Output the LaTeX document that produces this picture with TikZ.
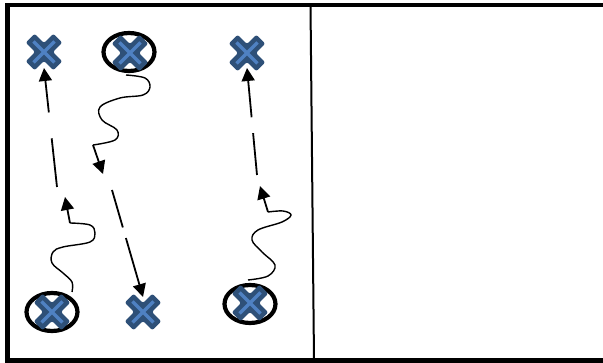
\documentclass[tikz,border=0pt]{standalone}
\usetikzlibrary{arrows.meta,shapes.geometric}
\definecolor{xdark}{HTML}{2E5078}
\definecolor{xlight}{HTML}{4F81C2}
\tikzset{
  frameline/.style={line width=4.5pt,black},
  ring/.style={ellipse,draw=black,line width=4.2pt,minimum width=51pt,minimum height=38pt,inner sep=0pt},
  runline/.style={line width=1.8pt,-{Triangle[length=13pt,width=13pt]}},
  wiggle/.style={line width=1.4pt},
  xcross/.pic={
    \fill[xdark,rounded corners=2pt,scale=1.06] (8.5,0) -- (17.2,8.8) -- (8.8,17.2) -- (0,8.5) -- (-8.8,17.2) -- (-17.2,8.8) -- (-8.5,0) -- (-17.2,-8.8) -- (-8.8,-17.2) -- (0,-8.5) -- (8.8,-17.2) -- (17.2,-8.8) -- cycle;
    \draw[xlight,line width=3.4pt] (-10.5,-10.5) -- (10.5,10.5) (-10.5,10.5) -- (10.5,-10.5);
  }
}
\begin{document}
\begin{tikzpicture}[x=1pt,y=-1pt]
\useasboundingbox (0,0) rectangle (603,363);
% frame
\draw[frameline] (603,5) -- (7.5,5) -- (7.5,360.5) -- (603,360.5);
\draw[line width=2pt] (310.5,5) -- (314,360);
% positions
\coordinate (x1) at (44,52);
\coordinate (x2) at (130,53);
\coordinate (x3) at (247,53);
\coordinate (x4) at (52,312);
\coordinate (x5) at (143,312);
\coordinate (x6) at (250,303);
% ellipses
\node[ring] (e2) at (129,52) {};
\node[ring] (e4) at (52,312) {};
\node[ring] (e6) at (250,304) {};
% crosses
\foreach \p in {x1,x2,x3,x4,x5,x6} \pic at (\p) {xcross};
% wiggle end points
\coordinate (w1) at (70,223);
\coordinate (t1) at (65,197);
\coordinate (d1) at (57,187);
\coordinate (a1) at (44,68);
\coordinate (w2) at (93,145);
\coordinate (t2) at (103,174);
\coordinate (d2) at (112,190);
\coordinate (a2) at (143,297);
\coordinate (w3) at (268,212);
\coordinate (t3) at (260,186);
\coordinate (d3) at (257,175);
\coordinate (a3) at (247,68);
% left route
\draw[wiggle] plot[smooth,tension=0.6] coordinates {(72,292) (72,282) (63,273) (52,263) (53,252) (63,247) (90,242) (95,233) (90,225) (70,223)};
\draw[runline] (w1) -- (t1);
\draw[runline,dash pattern=on 49pt off 26pt on 80pt off 0pt] (d1) -- (a1);
% middle route
\draw[wiggle] plot[smooth,tension=0.6] coordinates {(126,75) (145,78) (150,87) (143,95) (120,98) (100,107) (102,120) (117,130) (115,140) (93,145)};
\draw[runline] (w2) -- (t2);
\draw[runline,dash pattern=on 39pt off 11pt on 90pt off 0pt] (d2) -- (a2);
% right route
\draw[wiggle] plot[smooth,tension=0.6] coordinates {(248,280) (268,276) (275,265) (262,252) (252,240) (258,230) (282,222) (291,215) (283,211) (268,212)};
\draw[runline] (w3) -- (t3);
\draw[runline,dash pattern=on 42pt off 16pt on 80pt off 0pt] (d3) -- (a3);
\end{tikzpicture}
\end{document}
